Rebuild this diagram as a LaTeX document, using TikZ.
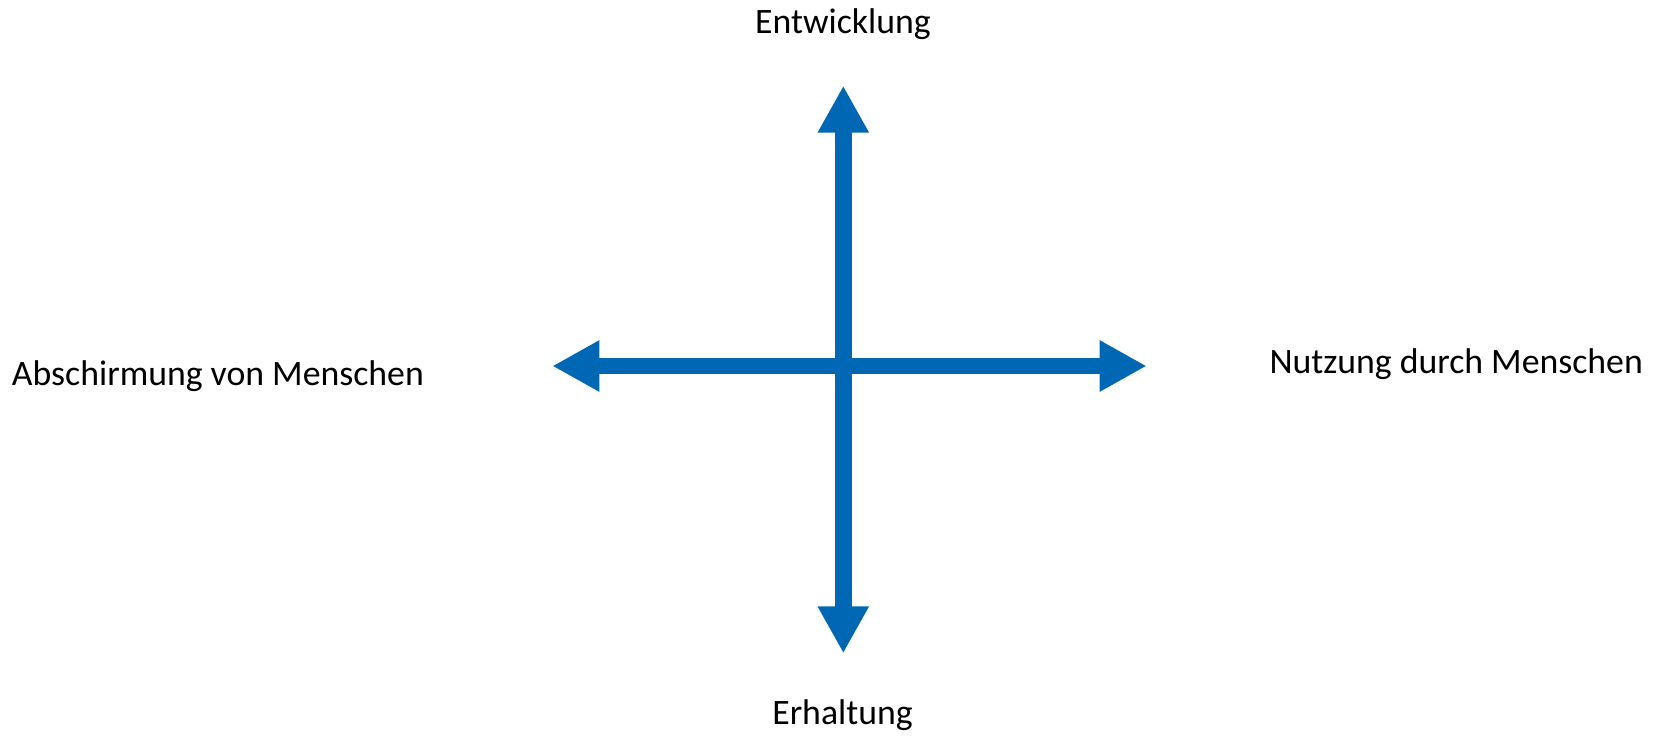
\documentclass[tikz,border=0pt]{standalone}
\usepackage{fontspec}
\setmainfont{Carlito}
\usetikzlibrary{arrows.meta}
\definecolor{arrowblue}{RGB}{0,103,180}
\begin{document}
\begin{tikzpicture}[x=1pt,y=-1pt,
  axis/.style={draw=arrowblue,line width=16.5pt,
    {Triangle[length=47pt,width=48pt,fill=arrowblue]}-{Triangle[length=47pt,width=48pt,fill=arrowblue]}},
  lbl/.style={inner sep=0pt,font=\fontsize{35.75}{42}\selectfont}]
\useasboundingbox (0,0) rectangle (1663,740);
\coordinate (top) at (843.3,85.7);
\coordinate (bot) at (843.3,653.3);
\coordinate (lft) at (552.3,366);
\coordinate (rgt) at (1146.7,366);
\draw[axis] (lft) -- (rgt);
\draw[axis] (bot) -- (top);
\node[lbl,anchor=base] (ent) at (843,33.3) {Entwicklung};
\node[lbl,anchor=base] (erh) at (842.5,724.3) {Erhaltung};
\node[lbl,anchor=base west] (abs) at (11.7,385.7) {Abschirmung von Menschen};
\node[lbl,anchor=base west] (nut) at (1269.3,373.3) {Nutzung durch Menschen};
\end{tikzpicture}
\end{document}
